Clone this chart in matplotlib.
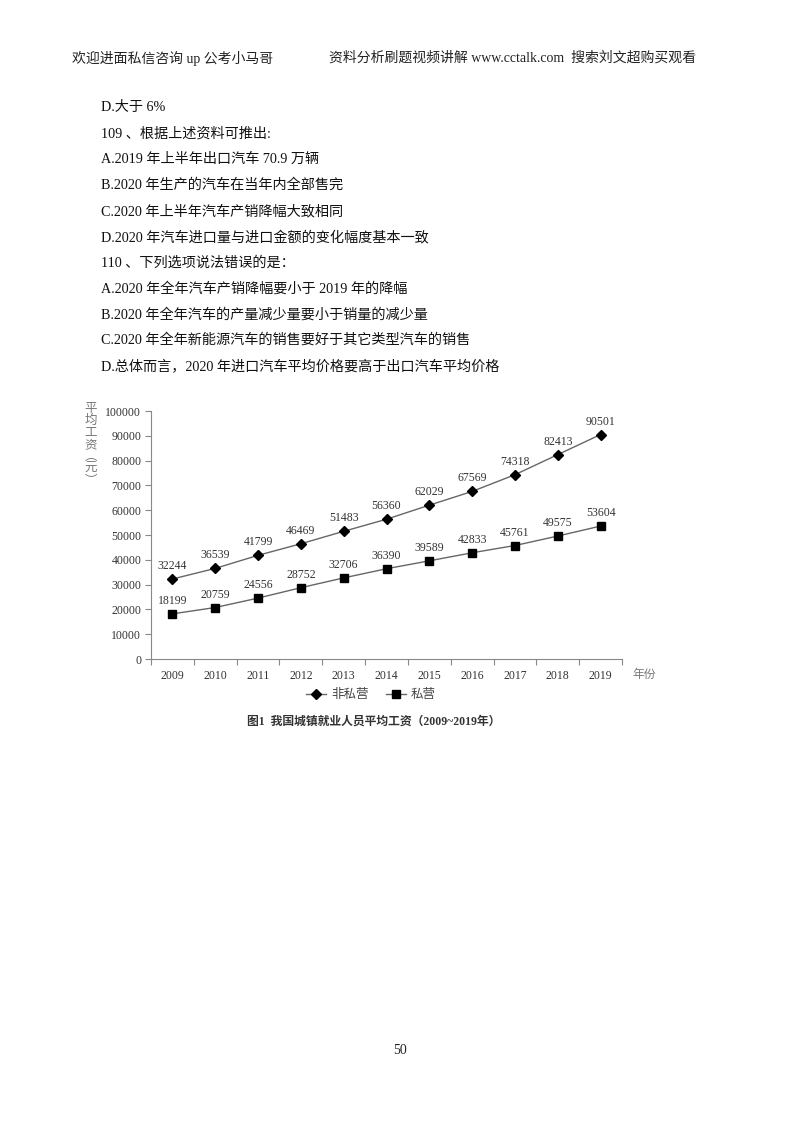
"""Recreate exam page with average wage chart (2009-2019)."""
import matplotlib

matplotlib.use("Agg")
import matplotlib.pyplot as plt
from matplotlib.ticker import FixedLocator, NullFormatter

FONTS = ["Liberation Serif", "Noto Sans CJK SC", "DejaVu Sans"]
plt.rcParams["font.family"] = FONTS

years = ["2009", "2010", "2011", "2012", "2013", "2014",
         "2015", "2016", "2017", "2018", "2019"]
non_private = [32244, 36539, 41799, 46469, 51483, 56360,
               62029, 67569, 74318, 82413, 90501]
private = [18199, 20759, 24556, 28752, 32706, 36390,
           39589, 42833, 45761, 49575, 53604]
yticks = list(range(0, 100001, 10000))

header_left = "欢迎进面私信咨询 up 公考小马哥"
header_right = "资料分析刷题视频讲解 www.cctalk.com  搜索刘文超购买观看"
body_lines = [
    "D.大于 6%",
    "109 、根据上述资料可推出:",
    "A.2019 年上半年出口汽车 70.9 万辆",
    "B.2020 年生产的汽车在当年内全部售完",
    "C.2020 年上半年汽车产销降幅大致相同",
    "D.2020 年汽车进口量与进口金额的变化幅度基本一致",
    "110 、下列选项说法错误的是：",
    "A.2020 年全年汽车产销降幅要小于 2019 年的降幅",
    "B.2020 年全年汽车的产量减少量要小于销量的减少量",
    "C.2020 年全年新能源汽车的销售要好于其它类型汽车的销售",
    "D.总体而言，2020 年进口汽车平均价格要高于出口汽车平均价格",
]

W, H = 800, 1132
fig = plt.figure(figsize=(W / 100, H / 100), dpi=100)
fig.patch.set_facecolor("white")


def fy(py):
    return 1 - py / H


def fx(px):
    return px / W


# page text
fig.text(fx(72), fy(58), header_left, fontsize=10, color="#222", va="center")
fig.text(fx(329), fy(58), header_right, fontsize=10, color="#222", va="center")
for i, line in enumerate(body_lines):
    fig.text(fx(101), fy(108 + i * 25.8), line, fontsize=10.2, color="#111", va="center")
fig.text(0.5, fy(1050), "50", fontsize=10, color="#222", ha="center", va="center")

# chart
left, right, top, bottom = 151, 622, 411, 659
ax = fig.add_axes([fx(left), fy(bottom), fx(right - left), (bottom - top) / H])
x = list(range(len(years)))
ax.plot(x, non_private, color="#666", lw=1.0, marker="D", ms=5,
        mfc="black", mec="black", label="非私营")
ax.plot(x, private, color="#666", lw=1.0, marker="s", ms=5.5,
        mfc="black", mec="black", label="私营")
for xi, v in zip(x, non_private):
    ax.annotate(str(v), (xi, v), xytext=(0, 5), textcoords="offset points",
                ha="center", va="bottom", fontsize=8.5, color="#333")
for xi, v in zip(x, private):
    ax.annotate(str(v), (xi, v), xytext=(0, 5), textcoords="offset points",
                ha="center", va="bottom", fontsize=8.5, color="#333")

ax.set_xlim(-0.5, len(years) - 0.5)
ax.set_ylim(0, 100000)
ax.set_yticks(yticks)
ax.set_yticklabels([str(t) for t in yticks])
ax.set_xticks(x)
ax.set_xticklabels(years)
ax.xaxis.set_minor_locator(FixedLocator([i - 0.5 for i in range(len(years) + 1)]))
ax.xaxis.set_minor_formatter(NullFormatter())
ax.tick_params(axis="x", which="major", length=0, pad=8, labelsize=8.5, colors="#333")
ax.tick_params(axis="x", which="minor", length=4, color="#888", width=0.8)
ax.tick_params(axis="y", length=4, color="#888", width=0.8, labelsize=8.5,
               labelcolor="#333", pad=3)
for s in ("top", "right"):
    ax.spines[s].set_visible(False)
for s in ("left", "bottom"):
    ax.spines[s].set_color("#888")
    ax.spines[s].set_linewidth(0.8)
ax.set_facecolor("none")

fig.text(fx(91), fy(445), "\n".join("平均工资︵元︶"), fontsize=9, color="#777",
         ha="center", va="center", linespacing=1.0)
fig.text(fx(632), fy(675), "年份", fontsize=8.5, color="#777", va="center")

fig.legend(loc="center", bbox_to_anchor=(fx(371), fy(695)), ncol=2, frameon=False,
           fontsize=9, handlelength=1.6, columnspacing=1.4, handletextpad=0.4,
           labelcolor="#444")
fig.text(fx(247), fy(722), "图1  我国城镇就业人员平均工资（2009~2019年）", fontsize=8.5,
         color="#333", va="center", fontweight="bold")

fig.savefig("out.png", dpi=100, facecolor="white")
